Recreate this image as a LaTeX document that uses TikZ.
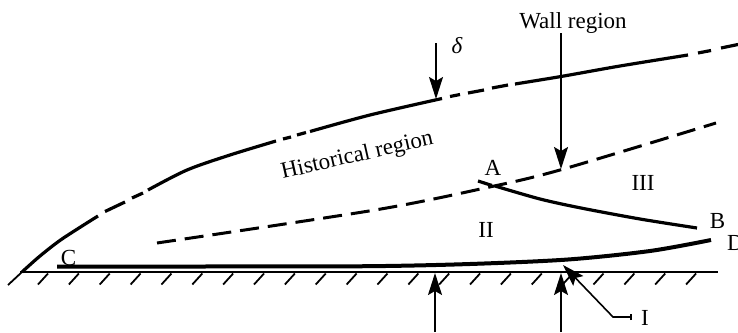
\documentclass[tikz,border=0pt]{standalone}
\usepackage{fontspec}
\setmainfont{Liberation Serif}
\usetikzlibrary{arrows.meta}
\begin{document}
\begin{tikzpicture}[x=1pt,y=-1pt,
  bound/.style={line width=3.2pt},
  inner/.style={line width=3pt,dash pattern=on 19pt off 9pt},
  ptr/.style={line width=1.6pt,-{Stealth[length=22pt,width=14pt,inset=4pt]}},
  lab/.style={font=\fontsize{23}{23}\selectfont, inner sep=0pt, anchor=base},
  hatch/.style={line width=1.8pt}]
\useasboundingbox (0,0) rectangle (738,332);

% outer (delta) boundary: dash-dot-like pattern
\draw[bound] plot[smooth] coordinates {(22,272) (40,256) (62,239) (98,216)};
\draw[bound] (105,211.5) -- (125,202);
\draw[bound] (132,198) -- (143,193);
\draw[bound] plot[smooth] coordinates {(148,190) (187,170) (230,155) (276,141)};
\draw[bound] (283,139) -- (291,137);
\draw[bound] (297,135) -- (306,132.5);
\draw[bound] plot[smooth] coordinates {(310,131.5) (370,115) (442,98.5)};
\draw[bound] (450,96.5) -- (460,94.5);
\draw[bound] (468,93) -- (484,90);
\draw[bound] (492,88) -- (508,85);
\draw[bound] plot[smooth] coordinates {(515,84) (561,76.5) (620,66) (688,55)};
\draw[bound] (698,53) -- (711,50.5);
\draw[bound] (721,48) -- (738,44.5);

% inner dashed boundary
\draw[inner] plot[smooth] coordinates {(157,243) (375,210) (485,188) (560,170) (716,123)};

% A-B curve
\draw[bound] (478,181) -- (492,185.5);
\draw[bound] plot[smooth] coordinates {(495,186) (540,199) (581,208) (640,219) (697,228)};

% C-D sublayer
\draw[line width=4pt] plot[smooth] coordinates {(57,266.5) (200,266.5) (368,266.2) (470,264) (568,259.5) (650,251) (711,240)};

% wall
\draw[line width=2.8pt] (20,272) -- (718,272);
\draw[hatch] (22,272) -- (8,285);
\foreach \k in {0,...,21} {
  \draw[hatch] ({43+30.86*\k+5},273.5) -- ({43+30.86*\k-5},284.5);
}

% labels
\node[lab] (wall) at (573,28) {Wall region};
\node[lab] (delta) at (457,53) {\textit{δ}};
\node[lab,rotate=12.8] (hist) at (358.5,161.5) {Historical region};
\node[lab] (A) at (493,175) {A};
\node[lab] (B) at (717.5,228) {B};
\node[lab] (C) at (68.5,265) {C};
\node[lab,anchor=base west] (D) at (727,250) {D};
\node[lab] (II) at (486,237) {II};
\node[lab] (III) at (643,190) {III};
\node[lab] (I) at (645,325) {I};

% arrows
\coordinate (wtop) at (561,33);
\coordinate (wtip) at (561,169);
\coordinate (dtop) at (436,43);
\coordinate (dtip) at (436,99);
\coordinate (b1) at (435,332);
\coordinate (b1t) at (435,273);
\coordinate (b2) at (561,332);
\coordinate (b2t) at (561,273);
\coordinate (iend) at (631,317);
\coordinate (ibend) at (613,317);
\coordinate (itip) at (563,265);

\draw[ptr] (wtop) -- (wtip);
\draw[ptr] (dtop) -- (dtip);
\draw[ptr] (b1) -- (b1t);
\draw[ptr] (b2) -- (b2t);
\draw[ptr] (iend) -- (ibend) -- (itip);
\draw[line width=1.2pt] ([yshift=-3pt]iend) -- ([yshift=3pt]iend);
\end{tikzpicture}
\end{document}
